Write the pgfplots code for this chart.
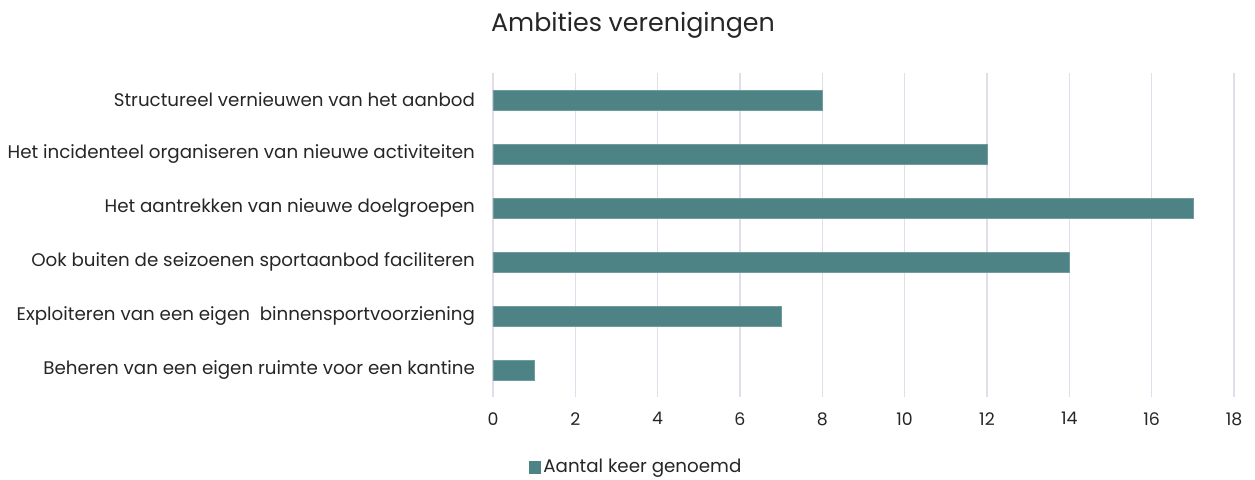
\documentclass[border=0pt]{standalone}
\usepackage{fontspec}
\setmainfont{Poppins}
\usepackage{pgfplots}
\pgfplotsset{compat=1.18}
\definecolor{barteal}{HTML}{4E8385}
\definecolor{gridlav}{HTML}{E2DCEB}
\definecolor{txt}{HTML}{262626}
\begin{document}
\begin{tikzpicture}
\useasboundingbox (-369.75pt,-61.5pt) rectangle (571.5pt,297.75pt);
\begin{axis}[
  at={(0pt,0pt)}, anchor=south west,
  xbar, bar width=15pt,
  width=555.75pt, height=243pt, scale only axis,
  xmin=0, xmax=18, ymin=-0.5, ymax=5.5,
  xtick={0,2,...,18},
  ytick={0,1,2,3,4,5},
  yticklabels={Beheren van een eigen ruimte voor een kantine,
    Exploiteren van een eigen\ \ binnensportvoorziening,
    Ook buiten de seizoenen sportaanbod faciliteren,
    Het aantrekken van nieuwe doelgroepen,
    Het incidenteel organiseren van nieuwe activiteiten,
    Structureel vernieuwen van het aanbod},
  axis line style={draw=none},
  major tick length=0pt,
  xmajorgrids=true, grid style={gridlav, line width=1pt},
  yticklabel style={font=\fontsize{13.7}{16}\selectfont, text=txt, xshift=-10pt},
  xticklabel style={font=\fontsize{13}{15}\selectfont, text=txt, yshift=-8pt},
  /pgf/number format/assume math mode=true,
  legend style={at={(0.194,-0.216)}, anchor=center, draw=none,
    font=\fontsize{13.7}{16}\selectfont, text=txt},
]
\addplot[fill=barteal, draw=barteal!80!white,
  legend image code/.code={\fill[barteal] (0pt,-4.5pt) rectangle (8pt,4.5pt);}]
  coordinates {(1,0) (7,1) (14,2) (17,3) (12,4) (8,5)};
\legend{Aantal keer genoemd}
\end{axis}
\node[text=txt, font=\fontsize{19}{22}\selectfont] at (105pt,279pt) {Ambities verenigingen};
\end{tikzpicture}
\end{document}
